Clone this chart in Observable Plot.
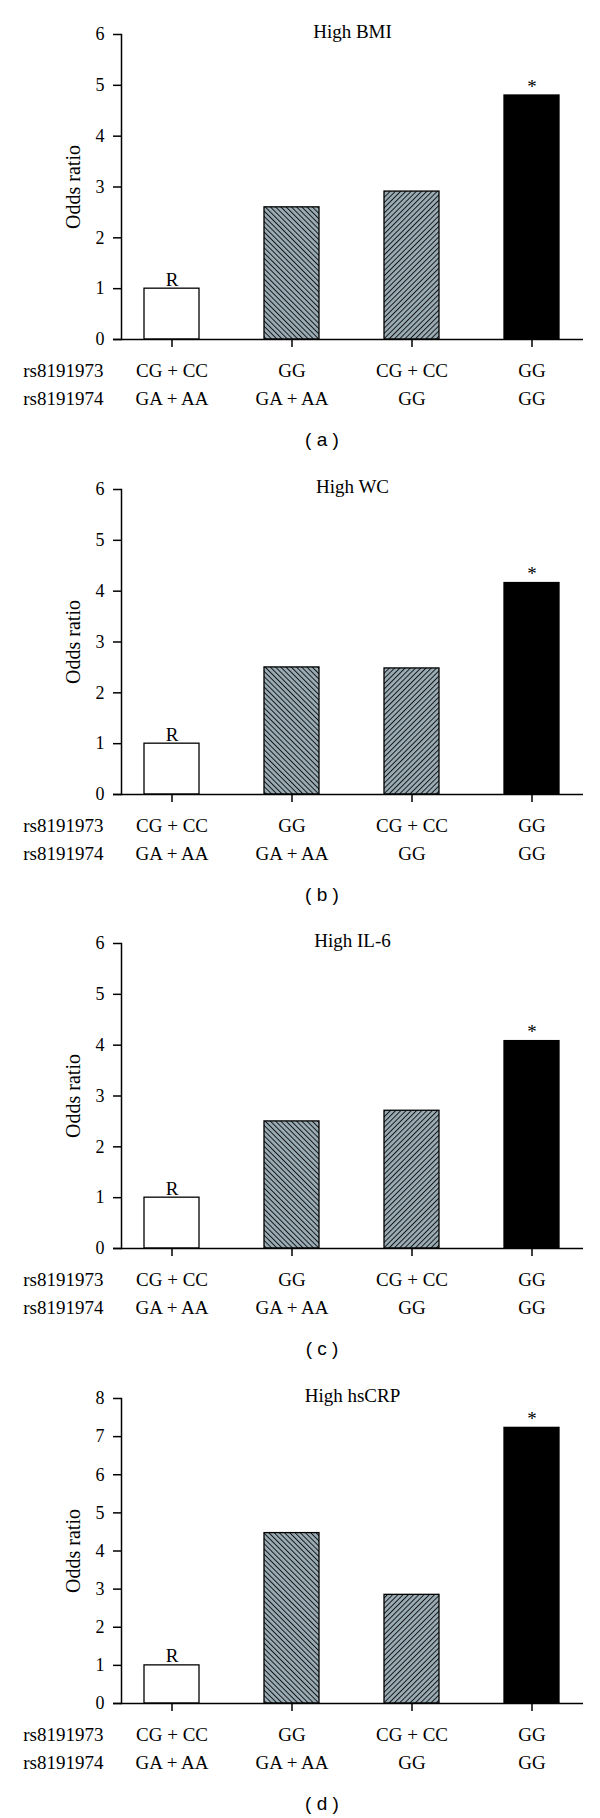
<!DOCTYPE html>
<html><head><meta charset="utf-8">
<script src="https://cdn.jsdelivr.net/npm/d3@7"></script>
<script src="https://cdn.jsdelivr.net/npm/@observablehq/plot@0.6"></script>
<style>
body{margin:0;background:#fff;width:600px}
.panel{width:600px;height:454.5px;overflow:hidden}
.panel svg{display:block}
.panel svg text{font-family:'Liberation Serif','Times New Roman',serif;fill:#000}
g[aria-label="y-axis tick label"] text{font-size:18px}
g[aria-label="x-axis tick label"] text{font-size:19px}
g[aria-label="y-label"] text{font-size:20px}
g[aria-label="title"] text{font-size:19px}
g[aria-label="notes"] text{font-size:19px}
g[aria-label="snp names"] text{font-size:19px}
.cap{height:34.5px;box-sizing:border-box;padding-top:6px;padding-left:44px;line-height:28px;font-family:"Liberation Sans",Arial,sans-serif;font-size:19px;text-align:center;color:#000}
</style></head><body><div id="root"></div>
<script>
// categories (genotype combinations)
const rs8191973 = ["CG + CC", "GG", "CG + CC", "GG"];
const rs8191974 = ["GA + AA", "GA + AA", "GG", "GG"];
const groups = rs8191973.map((a, i) => a + " / " + rs8191974[i]);
const snpNames = ["rs8191973", "rs8191974"];
// panels
const titles = ["High BMI", "High WC", "High IL-6", "High hsCRP"];
const captions = ["( a )", "( b )", "( c )", "( d )"];
// odds ratios
const highBMI = [1.0, 2.60, 2.91, 4.80];
const highWC = [1.0, 2.50, 2.48, 4.16];
const highIL6 = [1.0, 2.50, 2.71, 4.08];
const highHsCRP = [1.0, 4.47, 2.85, 7.23];
const notes = ["R", "", "", "*"];
const yMax = [6, 6, 6, 8];
const series = [highBMI, highWC, highIL6, highHsCRP];

const serif = "'Liberation Serif', 'Times New Roman', serif";
const root = document.getElementById("root");

series.forEach((values, k) => {
  const id = "p" + k;
  const data = groups.map((g, i) => ({g, i, v: values[i], note: notes[i]}));
  const fills = ["white", `url(#${id}-back)`, `url(#${id}-fwd)`, "black"];
  const defs = () => {
    const d = d3.create("svg:defs");
    const mk = (pid, angle) => {
      const s = 3.7;
      const p = d.append("pattern").attr("id", pid).attr("patternUnits", "userSpaceOnUse")
        .attr("width", s).attr("height", s).attr("patternTransform", `rotate(${angle})`);
      p.append("rect").attr("width", s).attr("height", s).attr("fill", "#9aacb5");
      p.append("line").attr("x1", 0.5).attr("x2", 0.5).attr("y1", -1).attr("y2", s + 1)
        .attr("stroke", "#111").attr("stroke-width", 0.95);
    };
    mk(id + "-back", -45);
    mk(id + "-fwd", 45);
    return d.node();
  };
  const chart = Plot.plot({
    width: 600, height: 420,
    marginTop: 34, marginBottom: 81, marginLeft: 121, marginRight: 17,
    style: {fontFamily: serif, fontSize: "18px", color: "black", background: "white"},
    x: {domain: groups, paddingInner: 0.54, paddingOuter: 0.184, axis: null},
    y: {domain: [0, yMax[k]], axis: null},
    color: {type: "identity"},
    marks: [
      defs,
      Plot.barY(data, {x: "g", y: "v", fill: d => fills[d.i], stroke: "black", strokeWidth: 1.3}),
      Plot.ruleY([0], {stroke: "black", strokeWidth: 1.5, insetLeft: -8}),
      Plot.frame({anchor: "left", stroke: "black", strokeWidth: 1.5}),
      Plot.axisY({ticks: d3.range(0, yMax[k] + 1), tickSize: 8, tickPadding: 9, tickFormat: d3.format("d"),
        label: null, fontSize: 18, strokeWidth: 1.5}),
      Plot.axisX({tickSize: 8, tickPadding: 10, label: null, fontSize: 19, lineHeight: 1.47, strokeWidth: 1.5,
        tickFormat: g => { const i = groups.indexOf(g); return rs8191973[i] + "\n" + rs8191974[i]; }}),
      Plot.text(data, {x: "g", y: "v", text: "note", lineAnchor: "bottom", dy: -3, fontSize: 19, ariaLabel: "notes"}),
      Plot.text([titles[k]], {frameAnchor: "top", textAnchor: "middle", lineAnchor: "middle", dy: -3, fontSize: 19, ariaLabel: "title"}),
      Plot.text(["Odds ratio"], {frameAnchor: "left", rotate: -90, dx: -48, textAnchor: "middle", lineAnchor: "middle", fontSize: 20, ariaLabel: "y-label"}),
      Plot.text([snpNames.join("\n")], {frameAnchor: "bottom-left", textAnchor: "end", lineAnchor: "top",
        dx: -18, dy: 18, lineHeight: 1.47, fontSize: 19, ariaLabel: "snp names"})
    ]
  });
  const panel = document.createElement("div");
  panel.className = "panel";
  panel.appendChild(chart);
  const cap = document.createElement("div");
  cap.className = "cap";
  cap.textContent = captions[k];
  panel.appendChild(cap);
  root.appendChild(panel);
});
</script>
</body></html>
